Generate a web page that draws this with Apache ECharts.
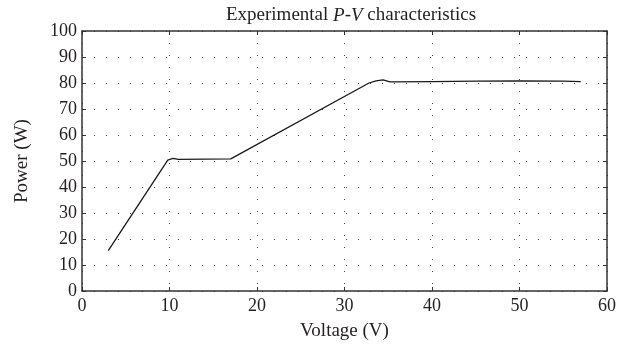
<!DOCTYPE html>
<html>
<head>
<meta charset="utf-8">
<script src="https://cdn.jsdelivr.net/npm/echarts@6/dist/echarts.min.js"></script>
<style>html,body{margin:0;padding:0;background:#fff;}#c{width:619px;height:358px;}</style>
</head>
<body>
<div id="c"></div>
<script>
const voltage = [3, 9.8, 10.4, 11, 17, 32.8, 33.6, 34.4, 35.2, 40, 45, 50, 55, 57];
const power   = [15.5, 50.3, 51.0, 50.6, 50.8, 80.0, 80.8, 81.2, 80.4, 80.5, 80.7, 80.8, 80.7, 80.5];
const xTicks = [0, 10, 20, 30, 40, 50, 60];
const yTicks = [0, 10, 20, 30, 40, 50, 60, 70, 80, 90, 100];

const FONT = '"Liberation Serif", "DejaVu Serif", serif';
const TXT = '#231f20';
const chart = echarts.init(document.getElementById('c'), null, {renderer: 'canvas'});
const gridDots = {show: true, lineStyle: {type: [1, 11], color: '#444', width: 1}};
const axLine = {show: true, onZero: false, lineStyle: {color: '#333', width: 1.5}};
const tick = {show: true, inside: true, length: 4, lineStyle: {color: '#333'}};
chart.setOption({
  animation: false,
  backgroundColor: '#fff',
  title: {
    text: '{n|Experimental }{i|P}{n|-}{i|V}{n| characteristics}',
    left: 346, top: 1, textAlign: 'center',
    textStyle: {
      fontWeight: 'normal',
      rich: {
        n: {fontFamily: FONT, fontSize: 19, color: TXT, fontWeight: 'normal'},
        i: {fontFamily: FONT, fontSize: 19, color: TXT, fontStyle: 'italic', fontWeight: 'normal'}
      }
    }
  },
  grid: {left: 82, right: 8, top: 31, bottom: 67, containLabel: false},
  xAxis: [{
    type: 'value', min: xTicks[0], max: xTicks[xTicks.length - 1], interval: 10,
    name: 'Voltage (V)', nameLocation: 'middle', nameGap: 31,
    nameTextStyle: {fontFamily: FONT, fontSize: 19, color: TXT},
    axisLine: axLine, axisTick: tick,
    axisLabel: {fontFamily: FONT, fontSize: 18, color: TXT, margin: 6},
    splitLine: gridDots
  }, {
    type: 'value', position: 'top', min: 0, max: 60, interval: 10,
    axisLine: axLine, axisTick: tick,
    axisLabel: {show: false}, splitLine: {show: false}
  }],
  yAxis: [{
    type: 'value', min: yTicks[0], max: yTicks[yTicks.length - 1], interval: 10,
    name: 'Power (W)', nameLocation: 'middle', nameGap: 50,
    nameTextStyle: {fontFamily: FONT, fontSize: 19, color: TXT},
    axisLine: axLine, axisTick: tick,
    axisLabel: {fontFamily: FONT, fontSize: 18, color: TXT, margin: 5},
    splitLine: gridDots
  }, {
    type: 'value', position: 'right', min: 0, max: 100, interval: 10,
    axisLine: axLine, axisTick: tick,
    axisLabel: {show: false}, splitLine: {show: false}
  }],
  series: [{
    type: 'line',
    data: voltage.map((v, i) => [v, power[i]]),
    showSymbol: false, smooth: false,
    lineStyle: {color: '#1a1a1a', width: 1.3},
    xAxisIndex: 0, yAxisIndex: 0
  }]
});
</script>
</body>
</html>
